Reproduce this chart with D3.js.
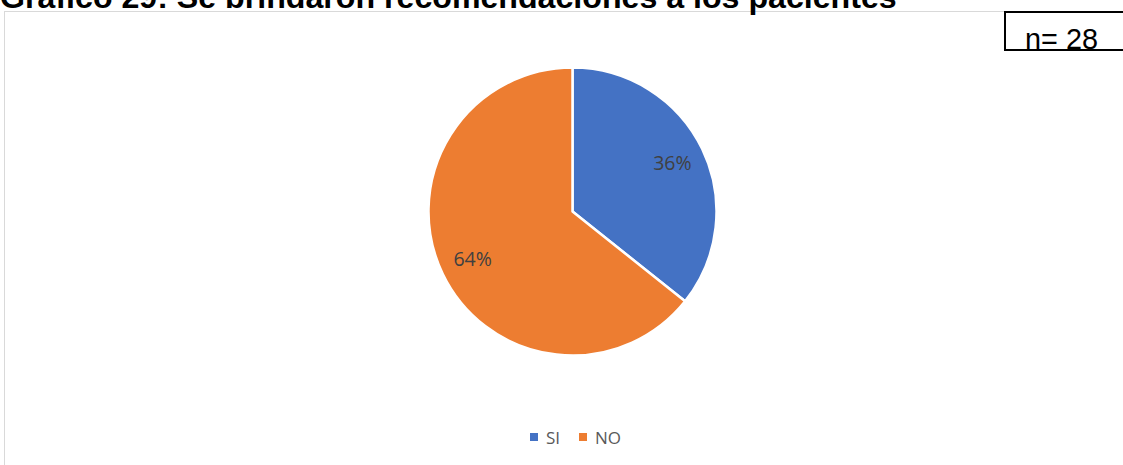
<!DOCTYPE html>
<html>
<head>
<meta charset="utf-8">
<script src="https://cdn.jsdelivr.net/npm/d3@7"></script>
<style>
  html, body { margin: 0; padding: 0; background: #fff; }
  svg { display: block; }
</style>
</head>
<body>
<svg id="chart" width="1123" height="465"></svg>
<script>
// Responses to: were recommendations given to patients?
const categories = ["SI", "NO"];
const counts = [10, 18];
const colors = ["#4472C4", "#ED7D31"];
const titleText = "Gráfico 29: Se brindaron recomendaciones a los pacientes";
const sampleText = "n= 28";

const W = 1123, H = 465;
const svg = d3.select("#chart");

// chart area frame
svg.append("rect")
  .attr("x", 4.5).attr("y", 11.5)
  .attr("width", W + 10).attr("height", H + 10)
  .attr("fill", "#fff")
  .attr("stroke", "#d9d9d9").attr("stroke-width", 1);

// title (sits above the frame)
const title = svg.append("text")
  .attr("x", 0).attr("y", 8)
  .attr("font-family", "Liberation Sans, Arial, sans-serif")
  .attr("font-weight", "bold")
  .attr("font-size", 24)
  .attr("fill", "#000")
  .text(titleText);
const tw = title.node().getComputedTextLength();
title.attr("font-size", 24 * 897 / tw);

// sample size box
svg.append("rect")
  .attr("x", 1005).attr("y", 12)
  .attr("width", 140).attr("height", 38)
  .attr("fill", "#fff")
  .attr("stroke", "#000").attr("stroke-width", 2);
const nText = svg.append("text")
  .attr("x", 1025).attr("y", 48.5)
  .attr("font-family", "Liberation Sans, Arial, sans-serif")
  .attr("font-size", 26)
  .attr("fill", "#000")
  .text(sampleText);
nText.attr("font-size", 26 * 73 / nText.node().getComputedTextLength());

// pie
const cx = 572.5, cy = 211.5, r = 144;
const total = d3.sum(counts);
const data = categories.map((c, i) => ({ cat: c, value: counts[i], color: colors[i] }));
const pie = d3.pie().sort(null).value(d => d.value);
const arc = d3.arc().innerRadius(0).outerRadius(r);
const labelArc = d3.arc().innerRadius(r * 0.77).outerRadius(r * 0.77);

const g = svg.append("g").attr("transform", `translate(${cx},${cy})`);
const arcs = pie(data);
g.selectAll("path.slice")
  .data(arcs)
  .join("path")
  .attr("class", "slice")
  .attr("d", arc)
  .attr("fill", d => d.data.color)
  .attr("stroke", "#fff")
  .attr("stroke-width", 2.5)
  .attr("stroke-linejoin", "round");

g.selectAll("text.lbl")
  .data(arcs)
  .join("text")
  .attr("class", "lbl")
  .attr("transform", d => `translate(${labelArc.centroid(d)})`)
  .attr("text-anchor", "middle")
  .attr("dy", "0.35em")
  .attr("font-family", "Open Sans, Carlito, Calibri, sans-serif")
  .attr("font-size", 19.5)
  .attr("fill", "#404040")
  .text(d => Math.round(d.data.value / total * 100) + "%");

// legend
const legend = svg.append("g");
const legendItems = [
  { x: 530, cat: categories[0], color: colors[0] },
  { x: 579, cat: categories[1], color: colors[1] }
];
legendItems.forEach(it => {
  legend.append("rect")
    .attr("x", it.x).attr("y", 433)
    .attr("width", 8).attr("height", 8)
    .attr("fill", it.color);
  legend.append("text")
    .attr("x", it.x + 16).attr("y", 444)
    .attr("font-family", "Open Sans, Carlito, Calibri, sans-serif")
    .attr("font-size", 17)
    .attr("fill", "#595959")
    .text(it.cat);
});
</script>
</body>
</html>
